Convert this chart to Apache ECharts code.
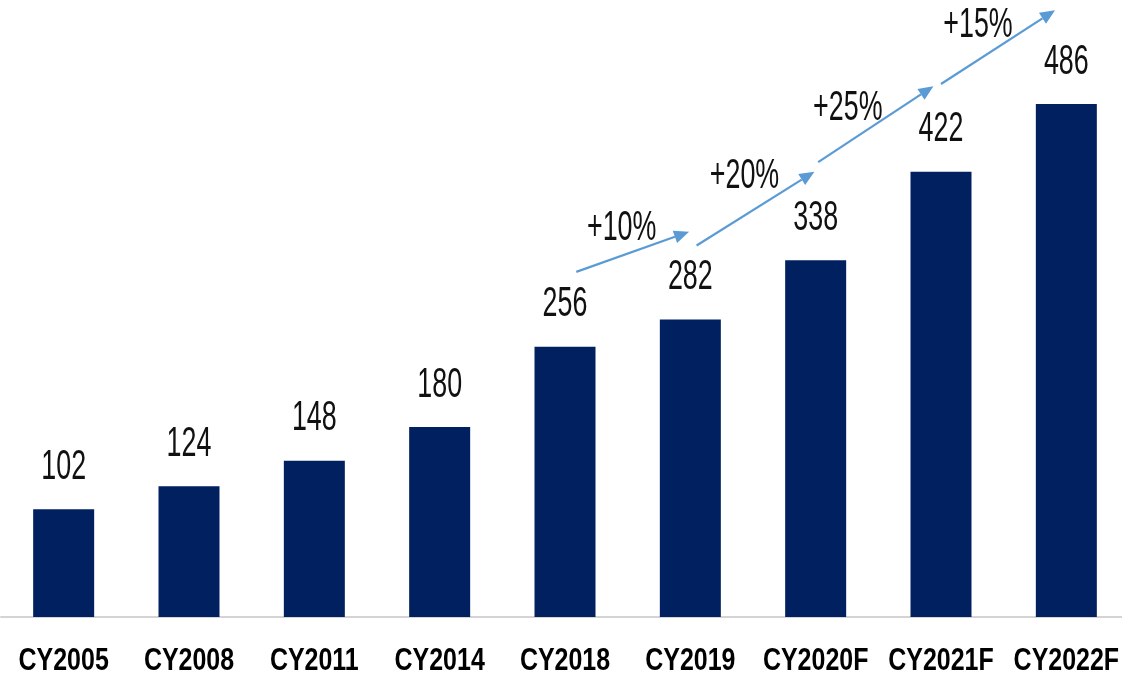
<!DOCTYPE html>
<html>
<head>
<meta charset="utf-8">
<script src="https://cdn.jsdelivr.net/npm/echarts@6/dist/echarts.min.js"></script>
<style>
  html, body { margin: 0; padding: 0; background: #ffffff; }
  #chart { width: 1122px; height: 681px; }
</style>
</head>
<body>
<div id="chart"></div>
<script>
// Calendar years (F = forecast)
const categories = ['CY2005', 'CY2008', 'CY2011', 'CY2014', 'CY2018', 'CY2019', 'CY2020F', 'CY2021F', 'CY2022F'];
const values = [102, 124, 148, 180, 256, 282, 338, 422, 486];

// Year-on-year growth callouts, each starting at the given category index
const growthLabels = ['+10%', '+20%', '+25%', '+15%'];
const growthFromIndex = [4, 5, 6, 7];

// Arrow placement for each growth callout (category offsets / value levels / label nudges)
const arrowLayout = [
  { dx0: 0.09, v0: 327, dx1: -0.01, v1: 365, lx: -11, ly: -23 },
  { dx0: 0.05, v0: 352, dx1: -0.01, v1: 422, lx: -11, ly: -32 },
  { dx0: 0.02, v0: 431, dx1: -0.06, v1: 503, lx: -28, ly: -16 },
  { dx0: 0.00, v0: 505, dx1: -0.09, v1: 575, lx: -20, ly: -22 }
];

const BAR_COLOR = '#002060';
const ARROW_COLOR = '#5b9bd5';
const LABEL_FONT = '42px "Liberation Sans", Arial, sans-serif';
const LABEL_SCALE_X = 0.64;
const CAT_FONT = 'bold 32px "Liberation Sans", Arial, sans-serif';
const CAT_SCALE_X = 0.78;

const chart = echarts.init(document.getElementById('chart'), null, { renderer: 'canvas' });

// Condensed value label above each bar
function renderValueLabel(params, api) {
  const p = api.coord([api.value(0), api.value(1)]);
  return {
    type: 'text',
    x: p[0],
    y: p[1] - 42,
    scaleX: LABEL_SCALE_X,
    style: {
      text: String(api.value(1)),
      x: 0, y: 0,
      align: 'center',
      verticalAlign: 'middle',
      font: LABEL_FONT,
      fill: '#111111'
    }
  };
}

// Condensed bold category name under the axis line
function renderCategoryLabel(params, api) {
  const i = api.value(0);
  const p = api.coord([i, 0]);
  return {
    type: 'text',
    x: p[0],
    y: p[1] + 44,
    scaleX: CAT_SCALE_X,
    style: {
      text: categories[i],
      x: 0, y: 0,
      align: 'center',
      verticalAlign: 'middle',
      font: CAT_FONT,
      fill: '#000000'
    }
  };
}

function renderGrowthArrow(params, api) {
  const i = params.dataIndex;
  const from = api.value(0);
  const g = arrowLayout[i];
  const band = api.size([1, 0])[0];
  const a = api.coord([from, g.v0]);
  const b = api.coord([from + 1, g.v1]);
  const x0 = a[0] + g.dx0 * band, y0 = a[1];
  const x1 = b[0] + g.dx1 * band, y1 = b[1];
  const ang = Math.atan2(y1 - y0, x1 - x0);
  const headLen = 15, headHalf = 6.5;
  const bx = x1 - headLen * Math.cos(ang), by = y1 - headLen * Math.sin(ang);
  const nx = -Math.sin(ang), ny = Math.cos(ang);
  return {
    type: 'group',
    children: [
      {
        type: 'line',
        shape: { x1: x0, y1: y0, x2: bx, y2: by },
        style: { stroke: ARROW_COLOR, lineWidth: 2.2 }
      },
      {
        type: 'polygon',
        shape: { points: [[x1, y1], [bx + nx * headHalf, by + ny * headHalf], [bx - nx * headHalf, by - ny * headHalf]] },
        style: { fill: ARROW_COLOR }
      },
      {
        type: 'text',
        x: (x0 + x1) / 2 + g.lx,
        y: (y0 + y1) / 2 + g.ly,
        scaleX: LABEL_SCALE_X,
        style: {
          text: growthLabels[i],
          x: 0, y: 0,
          align: 'center',
          verticalAlign: 'middle',
          font: LABEL_FONT,
          fill: '#111111'
        }
      }
    ]
  };
}

const option = {
  backgroundColor: '#ffffff',
  animation: false,
  grid: { left: 1, right: -7, top: 26, bottom: 64, containLabel: false, outerBoundsMode: 'none' },
  xAxis: {
    type: 'category',
    data: categories,
    axisTick: { show: false },
    axisLine: { show: true, lineStyle: { color: '#d4d4d4', width: 2 } },
    axisLabel: { show: false }
  },
  yAxis: {
    type: 'value',
    min: 0,
    max: 560,
    show: false,
    splitLine: { show: false }
  },
  series: [
    {
      type: 'bar',
      data: values,
      barWidth: 61,
      itemStyle: { color: BAR_COLOR },
      z: 2
    },
    {
      type: 'custom',
      data: values.map((v, i) => [i, v]),
      renderItem: renderValueLabel,
      clip: false,
      z: 3
    },
    {
      type: 'custom',
      data: categories.map((c, i) => [i, 0]),
      renderItem: renderCategoryLabel,
      clip: false,
      z: 3
    },
    {
      type: 'custom',
      data: growthFromIndex.map((f, i) => [f, i]),
      renderItem: renderGrowthArrow,
      clip: false,
      z: 4
    }
  ]
};

chart.setOption(option);
</script>
</body>
</html>
